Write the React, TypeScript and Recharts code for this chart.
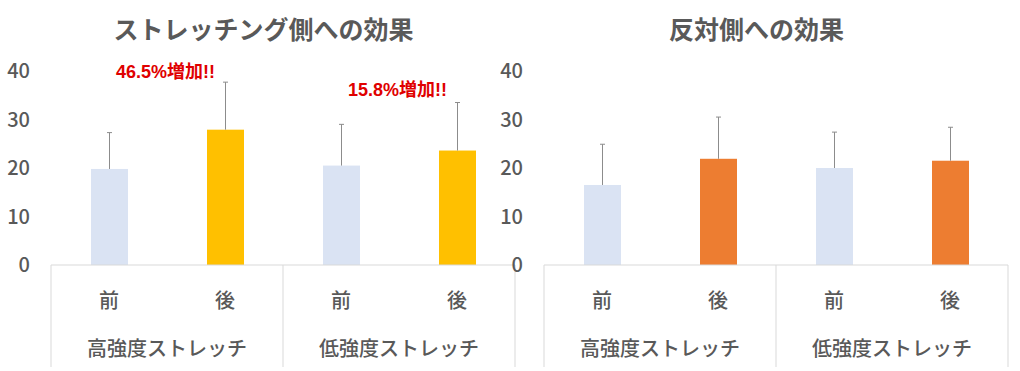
import React from "react";
import { BarChart, Bar, XAxis, YAxis } from "recharts";

const phases = ["前", "後", "前", "後"];
const groups = ["高強度ストレッチ", "高強度ストレッチ", "低強度ストレッチ", "低強度ストレッチ"];
const stretchMeans = [19.8, 27.9, 20.5, 23.6];
const stretchSD = [7.5, 9.8, 8.5, 9.9];
const stretchNotes = ["", "46.5%増加!!", "", "15.8%増加!!"];
const stretchNoteLevels = [0, 39.7, 0, 36.0];
const oppositeMeans = [16.5, 21.9, 20.0, 21.5];
const oppositeSD = [8.4, 8.6, 7.4, 6.9];
const yTicks = [0, 10, 20, 30, 40];
const titles = ["ストレッチング側への効果", "反対側への効果"];

const preColor = "#DAE3F3";
const stretchPostColor = "#FFC000";
const oppositePostColor = "#ED7D31";

const FONT = "'Noto Sans CJK JP', 'Noto Sans', sans-serif";
const NOTE_FONT = "'Liberation Sans', 'Noto Sans CJK JP', sans-serif";
const TEXT = "#595959";
const AXIS = "#D9D9D9";
const CHART_W = 520;
const CHART_H = 371;
const Y_W = 51;
const M_RIGHT = 5;
const M_TOP = 71;
const X_H = 106;

type Row = { phase: string; group: string; mean: number; sd: number; color: string; note: string; noteLevel: number };

const buildRows = (means: number[], sds: number[], post: string, notes?: string[], levels?: number[]): Row[] =>
  phases.map((p, i) => ({
    phase: p,
    group: groups[i],
    mean: means[i],
    sd: sds[i],
    color: i % 2 === 0 ? preColor : post,
    note: notes ? notes[i] : "",
    noteLevel: levels ? levels[i] : 0,
  }));

const stretchRows = buildRows(stretchMeans, stretchSD, stretchPostColor, stretchNotes, stretchNoteLevels);
const oppositeRows = buildRows(oppositeMeans, oppositeSD, oppositePostColor);

const halfBandDefault = (CHART_W - Y_W - M_RIGHT) / phases.length / 2;

const makeShape = (halfBand: number) => (props: any) => {
  const { x, y, width, height, payload } = props;
  const k = height / payload.mean;
  const cx = x + width / 2;
  const yTop = y - payload.sd * k;
  const base = y + height;
  return (
    <g>
      <rect x={x} y={y} width={width} height={height} fill={payload.color} />
      <line x1={cx} x2={cx} y1={y} y2={yTop} stroke="#8C8C8C" strokeWidth={1} />
      <line x1={cx - 2.5} x2={cx + 2.5} y1={yTop} y2={yTop} stroke="#8C8C8C" strokeWidth={1} />
      {payload.note ? (
        <text
          x={cx - halfBand - 2}
          y={base - payload.noteLevel * k}
          textAnchor="middle"
          dominantBaseline="central"
          fill="#E00000"
          fontSize={18}
          fontWeight={700}
          fontFamily={NOTE_FONT}
        >
          {payload.note}
        </text>
      ) : null}
    </g>
  );
};

const makeTick = (rows: Row[]) => (props: any) => {
  const { x, y, payload } = props;
  const half = payload && payload.offset ? payload.offset : halfBandDefault;
  const i = payload.index;
  const last = rows.length - 1;
  return (
    <g>
      {i % 2 === 0 ? <line x1={x - half} x2={x - half} y1={y} y2={y + 102} stroke={AXIS} strokeWidth={1} /> : null}
      {i === last ? <line x1={x + half} x2={x + half} y1={y} y2={y + 102} stroke={AXIS} strokeWidth={1} /> : null}
      <text x={x} y={y + 34} textAnchor="middle" dominantBaseline="central" fill={TEXT} fontSize={20} fontWeight={500} fontFamily={FONT}>
        {payload.value}
      </text>
      {i % 2 === 0 ? (
        <text x={x + half} y={y + 82} textAnchor="middle" dominantBaseline="central" fill={TEXT} fontSize={20} fontWeight={500} fontFamily={FONT}>
          {rows[i].group}
        </text>
      ) : null}
    </g>
  );
};

const Panel = ({ rows, title, left }: { rows: Row[]; title: string; left: number }) => (
  <div style={{ position: "absolute", left, top: 0, width: CHART_W, height: CHART_H }}>
    <div
      style={{
        position: "absolute",
        left: 0,
        width: 527,
        top: 12,
        textAlign: "center",
        fontFamily: FONT,
        fontSize: 25,
        fontWeight: 700,
        color: TEXT,
        lineHeight: "32px",
        whiteSpace: "nowrap",
      }}
    >
      {title}
    </div>
    <BarChart width={CHART_W} height={CHART_H} data={rows} margin={{ top: M_TOP, right: M_RIGHT, bottom: 0, left: 0 }}>
      <XAxis
        dataKey="phase"
        interval={0}
        height={X_H}
        tickSize={0}
        tickMargin={0}
        tickLine={false}
        axisLine={{ stroke: AXIS, strokeWidth: 1 }}
        tick={makeTick(rows)}
      />
      <YAxis
        domain={[0, 40]}
        ticks={yTicks}
        width={Y_W}
        axisLine={false}
        tickLine={false}
        tickSize={0}
        tickMargin={21}
        tick={{ fill: TEXT, fontSize: 20, fontFamily: FONT, fontWeight: 500 }}
      />
      <Bar dataKey="mean" barSize={37} isAnimationActive={false} shape={makeShape(halfBandDefault)} />
    </BarChart>
  </div>
);

export default function App() {
  return (
    <div style={{ position: "absolute", left: 0, top: 0, width: 1020, height: 371, background: "#fff", overflow: "hidden" }}>
      <Panel rows={stretchRows} title={titles[0]} left={0} />
      <Panel rows={oppositeRows} title={titles[1]} left={493} />
    </div>
  );
}
